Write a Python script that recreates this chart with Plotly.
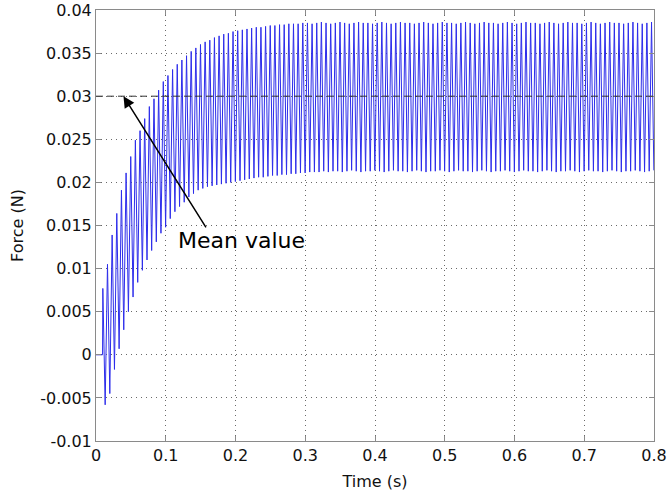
import plotly.graph_objects as go

# Oscillating contact force: one peak and one trough per cycle
idle_end_time = 0.0094        # s, force stays at zero until here
first_peak_time = 0.0098      # s
cycle_period = 1 / 150        # s

peak_force = [
    0.0077, 0.0105, 0.0139, 0.0164, 0.0191, 0.0211, 0.0230, 0.0249, 0.0260, 0.0274,
    0.0288, 0.0297, 0.0307, 0.0317, 0.0324, 0.0331, 0.0337, 0.0342, 0.0347, 0.0352,
    0.0356, 0.0360, 0.0363, 0.0365, 0.0368, 0.0370, 0.0372, 0.0373, 0.0375, 0.0376,
    0.0377, 0.0378, 0.0379, 0.0380, 0.0380, 0.0381, 0.0382, 0.0382, 0.0383, 0.0383,
    0.0384, 0.0384, 0.0384, 0.0385, 0.0385, 0.0384, 0.0385, 0.0386, 0.0385, 0.0384,
    0.0385, 0.0386, 0.0385, 0.0384, 0.0385, 0.0386, 0.0385, 0.0385, 0.0384, 0.0385,
    0.0386, 0.0385, 0.0384, 0.0385, 0.0386, 0.0385, 0.0385, 0.0384, 0.0385, 0.0386,
    0.0385, 0.0384, 0.0385, 0.0386, 0.0385, 0.0385, 0.0384, 0.0385, 0.0386, 0.0385,
    0.0384, 0.0385, 0.0386, 0.0385, 0.0385, 0.0384, 0.0385, 0.0386, 0.0385, 0.0384,
    0.0385, 0.0386, 0.0385, 0.0385, 0.0384, 0.0385, 0.0386, 0.0385, 0.0384, 0.0385,
    0.0386, 0.0385, 0.0385, 0.0384, 0.0385, 0.0386, 0.0385, 0.0384, 0.0385, 0.0386,
    0.0385, 0.0385, 0.0384, 0.0385, 0.0386, 0.0385, 0.0384, 0.0385, 0.0386,
]

trough_force = [
    -0.0058, -0.0045, -0.0017, 0.0007, 0.0029, 0.0050, 0.0067, 0.0084, 0.0098, 0.0110,
    0.0121, 0.0131, 0.0141, 0.0148, 0.0158, 0.0166, 0.0172, 0.0177, 0.0183, 0.0187,
    0.0191, 0.0193, 0.0195, 0.0196, 0.0197, 0.0198, 0.0199, 0.0200, 0.0201, 0.0202,
    0.0203, 0.0204, 0.0205, 0.0206, 0.0206, 0.0207, 0.0208, 0.0208, 0.0209, 0.0209,
    0.0210, 0.0210, 0.0211, 0.0211, 0.0212, 0.0212, 0.0212, 0.0213, 0.0212, 0.0213,
    0.0213, 0.0212, 0.0213, 0.0214, 0.0213, 0.0212, 0.0213, 0.0213, 0.0214, 0.0213,
    0.0212, 0.0213, 0.0214, 0.0213, 0.0213, 0.0212, 0.0213, 0.0214, 0.0213, 0.0212,
    0.0213, 0.0213, 0.0214, 0.0213, 0.0212, 0.0213, 0.0214, 0.0213, 0.0213, 0.0212,
    0.0213, 0.0214, 0.0213, 0.0212, 0.0213, 0.0213, 0.0214, 0.0213, 0.0212, 0.0213,
    0.0214, 0.0213, 0.0213, 0.0212, 0.0213, 0.0214, 0.0213, 0.0212, 0.0213, 0.0213,
    0.0214, 0.0213, 0.0212, 0.0213, 0.0214, 0.0213, 0.0213, 0.0212, 0.0213, 0.0214,
    0.0213, 0.0212, 0.0213, 0.0213, 0.0214, 0.0213, 0.0212, 0.0213, 0.0214,
]

mean_force = 0.03

x_ticks = [0, 0.1, 0.2, 0.3, 0.4, 0.5, 0.6, 0.7, 0.8]
x_tick_labels = ["0", "0.1", "0.2", "0.3", "0.4", "0.5", "0.6", "0.7", "0.8"]
y_ticks = [-0.01, -0.005, 0, 0.005, 0.01, 0.015, 0.02, 0.025, 0.03, 0.035, 0.04]
y_tick_labels = ["-0.01", "-0.005", "0", "0.005", "0.01", "0.015", "0.02",
                 "0.025", "0.03", "0.035", "0.04"]

# Build the time series: zero segment, then peak/trough pairs
time = [0.0, idle_end_time]
force = [0.0, 0.0]
for k, (pk, tr) in enumerate(zip(peak_force, trough_force)):
    t = first_peak_time + k * cycle_period
    time += [t, t + cycle_period / 2]
    force += [pk, tr]

FONT = "DejaVu Sans"
FRAME = "#8a8a8a"

fig = go.Figure()
fig.add_trace(go.Scatter(
    x=time, y=force, mode="lines",
    line=dict(color="rgb(45,45,235)", width=1),
    showlegend=False, hoverinfo="skip",
))

# Mean value reference line
fig.add_shape(type="line", xref="x", yref="y",
              x0=0, x1=0.8, y0=mean_force, y1=mean_force,
              line=dict(color="#333333", width=1, dash="7px,4px"))

# Arrow pointing at the mean line, with its label below
fig.add_annotation(x=0.0394, y=mean_force, ax=0.159, ay=0.0146,
                   xref="x", yref="y", axref="x", ayref="y",
                   text="", showarrow=True, arrowhead=2, arrowsize=1.5,
                   arrowwidth=1.5, arrowcolor="black")
fig.add_annotation(x=0.2085, y=0.0133, xref="x", yref="y", text="Mean value",
                   showarrow=False, font=dict(family=FONT, size=22, color="black"))

axis_common = dict(
    showline=True, linecolor=FRAME, linewidth=1, mirror="ticks",
    ticks="inside", ticklen=5, tickcolor=FRAME,
    showgrid=True, gridcolor="#6a6a6a", gridwidth=1, griddash="1px,4px",
    zeroline=False, automargin=False,
    tickfont=dict(family=FONT, size=16, color="#111111"),
)

fig.update_xaxes(range=[0, 0.8], tickvals=x_ticks, ticktext=x_tick_labels,
                 title=dict(text="Time (s)", standoff=11,
                            font=dict(family=FONT, size=16, color="#111111")),
                 **axis_common)
fig.update_yaxes(range=[-0.01, 0.04], tickvals=y_ticks, ticktext=y_tick_labels,
                 title=dict(text="Force (N)", standoff=12,
                            font=dict(family=FONT, size=16, color="#111111")),
                 **axis_common)

fig.update_layout(
    width=667, height=499,
    margin=dict(l=96, r=13, t=10, b=58),
    paper_bgcolor="white", plot_bgcolor="white",
)

fig.write_html("out.html")
